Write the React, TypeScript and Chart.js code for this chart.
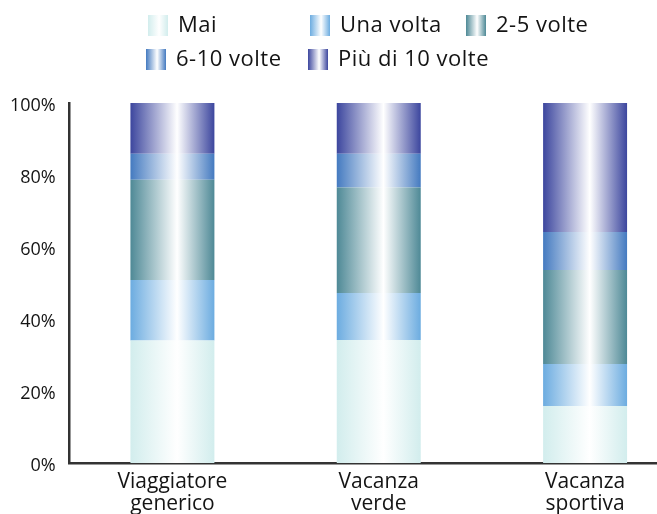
import { useEffect, useRef } from 'react';
import { Chart, registerables } from 'chart.js';

Chart.register(...registerables);

// ---- data ----
const categories = [
  ['Viaggiatore', 'generico'],
  ['Vacanza', 'verde'],
  ['Vacanza', 'sportiva'],
];
const seriesNames = ['Mai', 'Una volta', '2-5 volte', '6-10 volte', 'Più di 10 volte'];
const mai = [34.0, 34.2, 15.8];
const unaVolta = [16.8, 13.0, 11.7];
const dueCinque = [27.9, 29.3, 26.1];
const seiDieci = [7.2, 9.4, 10.6];
const piuDieci = [14.1, 14.1, 35.8];
const yMin = 0;
const yMax = 100;
const yStep = 20;

// ---- styles ----
const edgeColors = ['#d2eded', '#6cace0', '#4e8996', '#447ac0', '#3c469e'];
const BAR_PCT = 0.407;
const FONT = '"Open Sans", "DejaVu Sans", sans-serif';
const TEXT = '#141414';
const AXIS = '#333333';
const legendCols = [
  [148, 310, 466],
  [146, 308],
];
const legendRows = [25.5, 59.5];

function makeGrad(ctx: CanvasRenderingContext2D, x0: number, x1: number, color: string) {
  const g = ctx.createLinearGradient(x0, 0, x1, 0);
  g.addColorStop(0, color);
  g.addColorStop(0.556, '#ffffff');
  g.addColorStop(1, color);
  return g;
}

const legendPlugin = {
  id: 'columnLegend',
  afterDraw(chart: any) {
    const ctx: any = chart.ctx;
    ctx.save();
    ctx.font = `22px ${FONT}`;
    ctx.textBaseline = 'middle';
    ctx.textAlign = 'left';
    if ('letterSpacing' in ctx) ctx.letterSpacing = '0.5px';
    chart.data.datasets.forEach((ds: any, i: number) => {
      const row = i < 3 ? 0 : 1;
      const col = i < 3 ? i : i - 3;
      const bx = legendCols[row][col];
      const by = legendRows[row];
      ctx.fillStyle = makeGrad(ctx, bx, bx + 20, edgeColors[i]);
      ctx.fillRect(bx, by - 10.5, 20, 21);
      ctx.fillStyle = TEXT;
      ctx.fillText(ds.label, bx + 30, by);
    });
    ctx.restore();
  },
};

export default function App() {
  const ref = useRef<HTMLCanvasElement | null>(null);

  useEffect(() => {
    if (!ref.current) return;
    const seriesValues = [mai, unaVolta, dueCinque, seiDieci, piuDieci];
    const chart = new Chart(ref.current, {
      type: 'bar',
      data: {
        labels: categories as any,
        datasets: seriesNames.map((name, i) => ({
          label: name,
          data: seriesValues[i],
          borderWidth: 0,
          barPercentage: BAR_PCT,
          categoryPercentage: 1,
          backgroundColor: (c: any) => {
            const color = edgeColors[i];
            const ch = c.chart;
            const xs = ch.scales && ch.scales.x;
            if (c.type !== 'data' || !ch.chartArea || !xs) return color;
            const cx = xs.getPixelForValue(c.dataIndex);
            const w = (xs.width / categories.length) * BAR_PCT;
            return makeGrad(ch.ctx, cx - w / 2, cx + w / 2, color);
          },
        })),
      },
      options: {
        responsive: false,
        animation: false,
        layout: { padding: { top: 103, right: 1.75, left: 0, bottom: 0 } },
        plugins: {
          legend: { display: false },
          tooltip: { enabled: false },
        },
        scales: {
          x: {
            stacked: true,
            grid: { display: false, drawTicks: false },
            border: { display: true, color: AXIS, width: 2.5 },
            ticks: {
              color: TEXT,
              padding: 8,
              maxRotation: 0,
              autoSkip: false,
              font: { family: FONT, size: 21, lineHeight: '22px' },
            },
            afterFit: (s: any) => {
              s.height = 51;
            },
          },
          y: {
            stacked: true,
            min: yMin,
            max: yMax,
            grid: { display: false, drawTicks: false },
            border: { display: true, color: AXIS, width: 2.5 },
            ticks: {
              stepSize: yStep,
              color: TEXT,
              padding: 13.5,
              font: { family: FONT, size: 18, lineHeight: '5px' },
              callback: (v: any) => ['', `${v}%`],
            },
            afterFit: (s: any) => {
              s.width = 69.25;
            },
          },
        },
      },
      plugins: [legendPlugin],
    });
    return () => chart.destroy();
  }, []);

  return (
    <div style={{ position: 'absolute', left: 0, top: 0, width: 657, height: 514, overflow: 'hidden', background: '#fff' }}>
      <canvas ref={ref} width={690} height={514} style={{ display: 'block' }} />
    </div>
  );
}
